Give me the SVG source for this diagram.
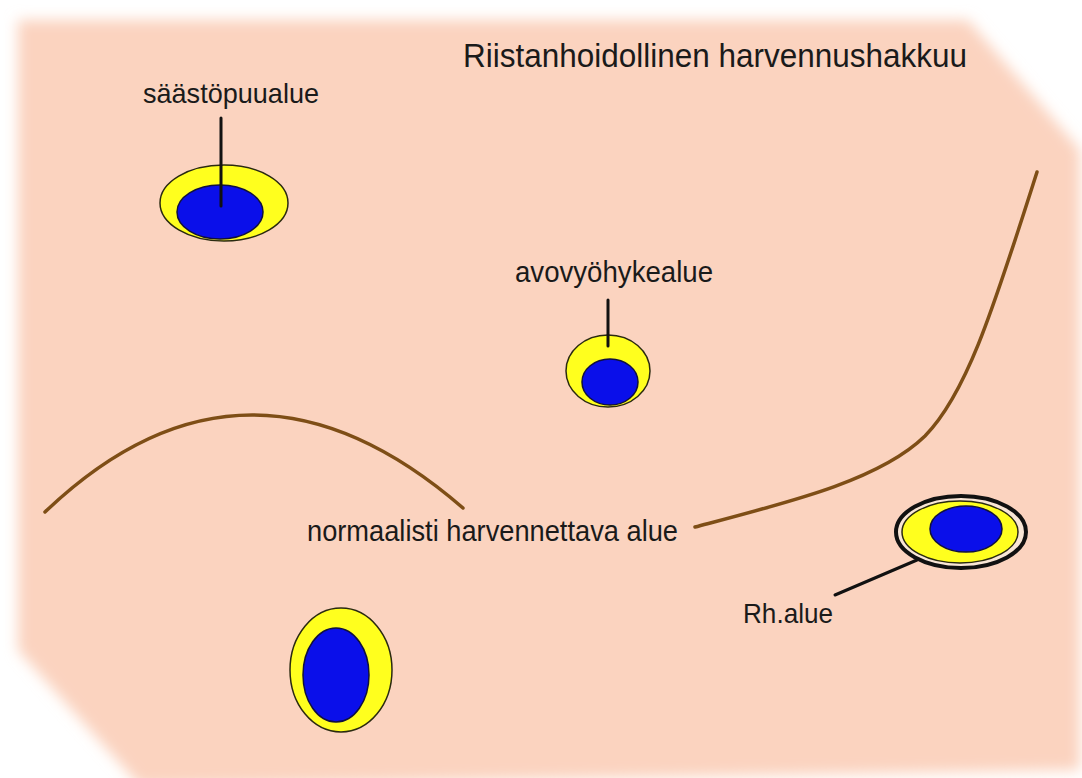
<svg xmlns="http://www.w3.org/2000/svg" width="1082" height="778" viewBox="0 0 1082 778">
  <defs>
    <filter id="soft" x="-5%" y="-5%" width="110%" height="110%">
      <feGaussianBlur stdDeviation="7"/>
    </filter>
    <style>
      .lbl { font-family: "Liberation Sans", Arial, sans-serif; fill: #1a1a1a; }
      .yel { fill: #FFFF1E; stroke: #2a2a10; stroke-width: 1.5; }
      .blu { fill: #0A0FEA; stroke: #101040; stroke-width: 1.5; }
      .ptr { stroke: #111; stroke-width: 3; fill: none; stroke-linecap: round; }
      .track { stroke: #7E4E16; stroke-width: 3.5; fill: none; stroke-linecap: round; }
    </style>
  </defs>
  <rect width="1082" height="778" fill="#ffffff"/>
  <polygon id="background" points="18,20 968,20 1080,150 1080,770 140,786 18,650" fill="#FBD3BF" filter="url(#soft)"/>

  <text id="title" class="lbl" x="463" y="67" font-size="34" textLength="504" lengthAdjust="spacingAndGlyphs">Riistanhoidollinen harvennushakkuu</text>

  <g id="connectors">
    <path class="track" d="M45,512 Q246,320 463,508"/>
    <path class="track" d="M695,527 C790,502 880,480 925,436 C965,395 990,320 1037,172"/>
  </g>

  <g id="saastopuualue">
    <ellipse class="yel" cx="224" cy="203" rx="64" ry="38"/>
    <ellipse class="blu" cx="220" cy="212" rx="43" ry="27"/>
    <line class="ptr" x1="221" y1="118" x2="221" y2="206"/>
    <text class="lbl" x="143" y="103" font-size="28" textLength="176" lengthAdjust="spacingAndGlyphs">säästöpuualue</text>
  </g>

  <g id="avovyohykealue">
    <ellipse class="yel" cx="608" cy="371" rx="42" ry="36"/>
    <ellipse class="blu" cx="610" cy="382" rx="28" ry="23"/>
    <line class="ptr" x1="608" y1="300" x2="608" y2="346"/>
    <text class="lbl" x="515" y="282" font-size="29" textLength="198" lengthAdjust="spacingAndGlyphs">avovyöhykealue</text>
  </g>

  <g id="normaalisti">
    <text class="lbl" x="307" y="541" font-size="29" textLength="371" lengthAdjust="spacingAndGlyphs">normaalisti harvennettava alue</text>
  </g>

  <g id="bottom-area">
    <ellipse class="yel" cx="341" cy="670" rx="51" ry="62"/>
    <ellipse class="blu" cx="336" cy="675" rx="33" ry="47"/>
  </g>

  <g id="rh-alue">
    <ellipse cx="961" cy="532" rx="65" ry="36" fill="#F9E6D6" stroke="#111" stroke-width="4"/>
    <ellipse class="yel" cx="960" cy="532" rx="58" ry="31"/>
    <ellipse class="blu" cx="966" cy="529" rx="36" ry="23"/>
    <line class="ptr" x1="835" y1="595" x2="917" y2="560" stroke-width="4"/>
    <text class="lbl" x="743" y="623" font-size="28" textLength="90" lengthAdjust="spacingAndGlyphs">Rh.alue</text>
  </g>
</svg>
